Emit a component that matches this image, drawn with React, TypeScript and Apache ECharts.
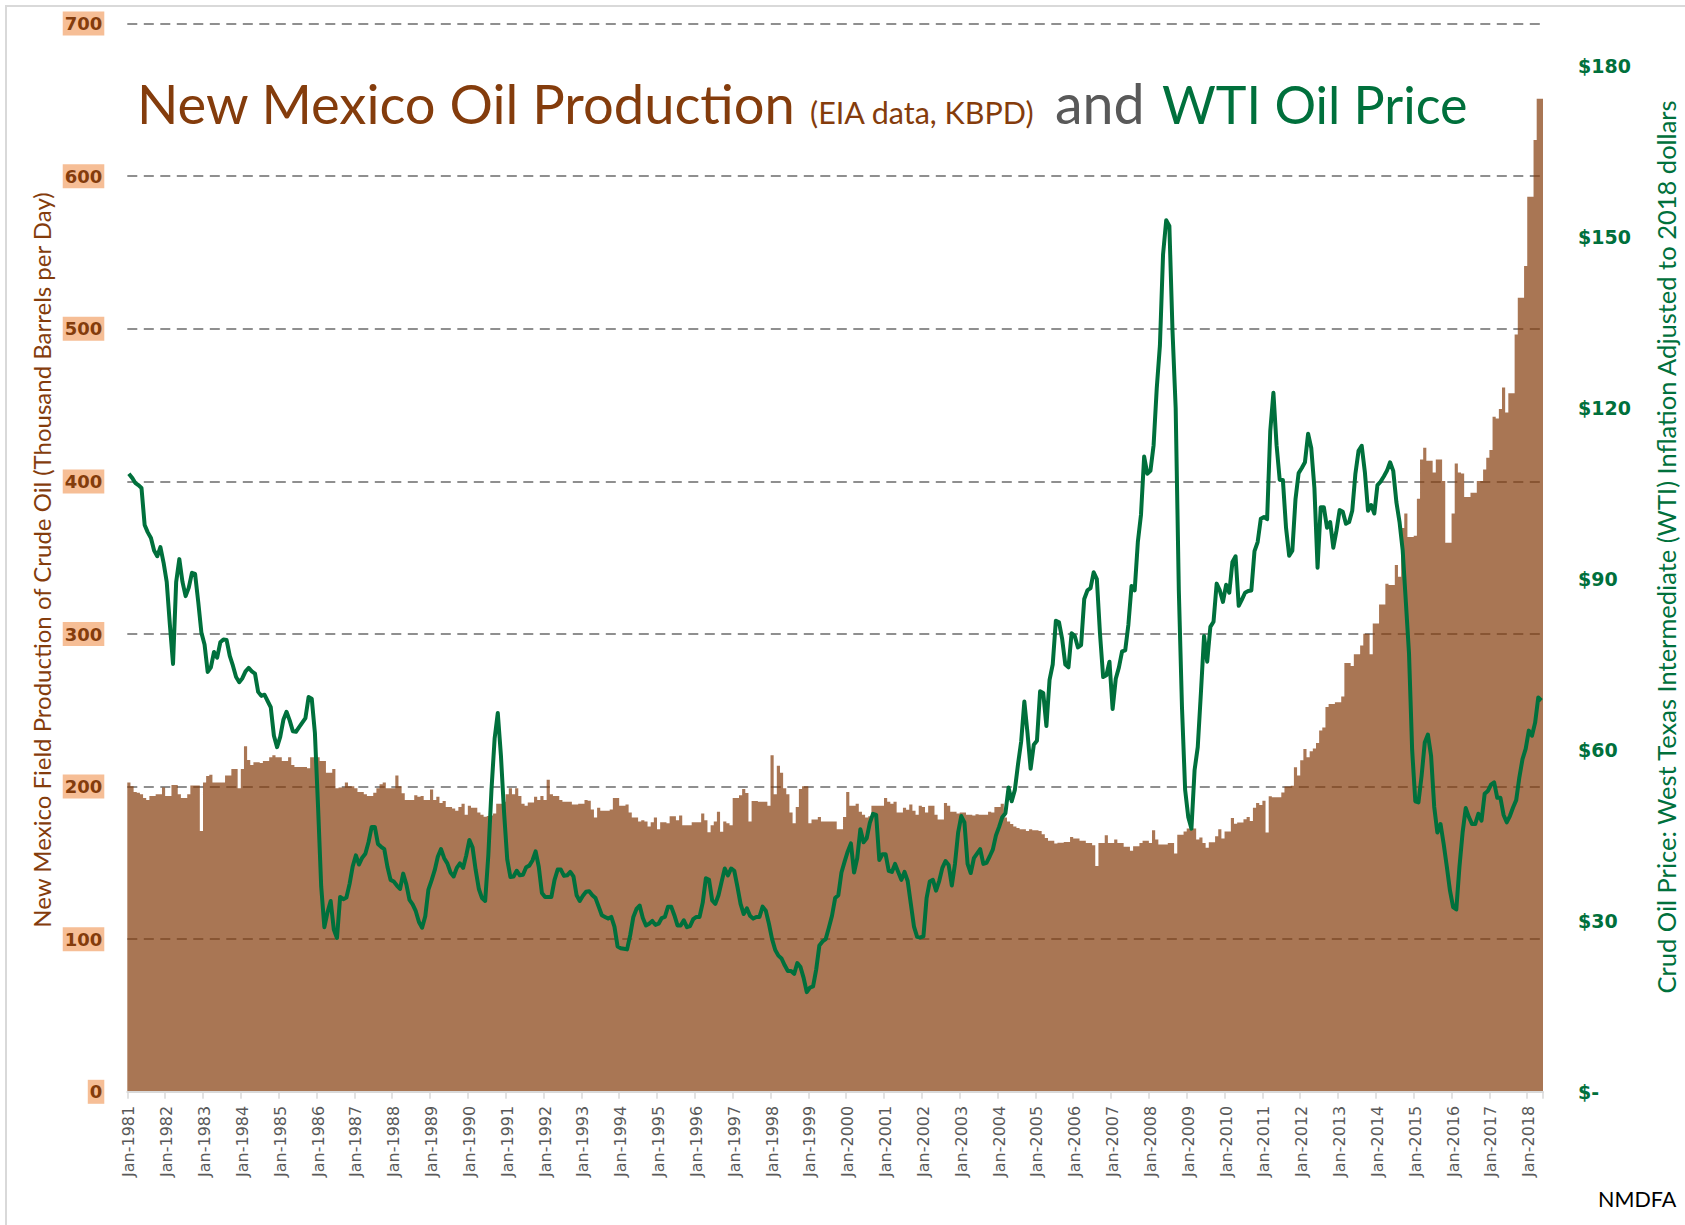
import React, { useEffect, useRef } from 'react';
import * as echarts from 'echarts';

// ---------- DATA ----------
const FIRST_YEAR = 1981;
const MONTHS = ['Jan', 'Feb', 'Mar', 'Apr', 'May', 'Jun', 'Jul', 'Aug', 'Sep', 'Oct', 'Nov', 'Dec'];

// New Mexico field production of crude oil, thousand barrels per day (monthly, Jan-1981 .. May-2018)
const productionKbpd: number[] = [
  /*1981*/ 202.7, 200.2, 196.4, 196, 195, 192.5, 191.3, 193.8, 193.8, 195, 195, 199.4,
  /*1982*/ 193.8, 193.8, 201, 201, 195, 192.5, 192.5, 195, 200.7, 200.7, 200.7, 170.9,
  /*1983*/ 202.7, 207, 207.8, 202.7, 202.7, 202.7, 202.7, 207.3, 207.3, 211.6, 211.6, 199,
  /*1984*/ 211.6, 226.4, 217.5, 214.2, 216, 216, 215.5, 216.7, 216.7, 219.3, 220.6, 219.3,
  /*1985*/ 219.3, 216.7, 216.7, 219.3, 214.2, 212.9, 212.9, 212.9, 212.9, 212, 219.3, 219.3,
  /*1986*/ 219.3, 216.7, 216.7, 209, 209, 211.6, 199, 199.4, 199.4, 202.7, 200.2, 200.2,
  /*1987*/ 199, 196.4, 196.4, 195, 193.8, 193.8, 196, 199, 201.5, 202.7, 199, 199,
  /*1988*/ 199, 207.3, 200.2, 195.6, 191.3, 191.3, 191.3, 194.3, 193.3, 193.8, 191.3, 191.3,
  /*1989*/ 198.1, 191.3, 193.3, 189.2, 190.5, 186.7, 186.7, 185.6, 184.1, 186.7, 188.7, 181.6,
  /*1990*/ 187.4, 186.2, 186.2, 183.1, 181.6, 180.3, 180.7, 181.1, 182.3, 188.7, 188.7, 190,
  /*1991*/ 195, 199, 195, 199, 193.8, 188.7, 187.4, 189.5, 189.5, 193.3, 191.3, 193.8,
  /*1992*/ 191.3, 204.5, 195, 193.8, 193.8, 191.3, 190, 190, 190, 188.2, 188.2, 188.7,
  /*1993*/ 188.7, 191.3, 190.7, 185, 179.8, 186.2, 184.1, 184.1, 184.1, 185, 192.5, 192.5,
  /*1994*/ 187.4, 187.4, 188.2, 183.1, 179.8, 179.8, 177.2, 178, 177.2, 173.9, 176.7, 179.8,
  /*1995*/ 172.1, 176.7, 176.7, 176, 180.6, 180.6, 178, 181.1, 174.7, 174.7, 174.7, 176.7,
  /*1996*/ 176.7, 176.7, 182.3, 178, 170.1, 174.7, 177.2, 183.6, 170.4, 177.2, 176, 174.7,
  /*1997*/ 192.5, 192.5, 194.3, 198.4, 195.8, 177.2, 190.5, 190.5, 190, 190, 190, 187.4,
  /*1998*/ 220.6, 195, 213.7, 209.1, 199, 195, 183.1, 176, 186.7, 198.4, 200.2, 200.2,
  /*1999*/ 176, 178.5, 178.5, 180, 177.2, 177.2, 177.2, 177.2, 177.2, 172.1, 172.1, 180,
  /*2000*/ 196.4, 187.4, 187.4, 188.7, 183.6, 181.6, 179.8, 180.6, 187.4, 187.4, 187.4, 187.4,
  /*2001*/ 192.5, 190, 188.7, 190, 183.1, 183.1, 186.2, 184.9, 188.2, 184.1, 181.6, 187.4,
  /*2002*/ 186.7, 183.1, 187.4, 187.4, 181.6, 178.5, 178.5, 189.2, 187.4, 183.6, 183.6, 182.3,
  /*2003*/ 183.1, 183.1, 181.6, 181.6, 181.1, 181.8, 181.6, 181.6, 181.6, 183.6, 183.1, 186.7,
  /*2004*/ 186.7, 188.7, 179.8, 177.2, 175.5, 173.9, 172.9, 172.1, 172.1, 170.9, 172.1, 171.4,
  /*2005*/ 171.4, 170.9, 168.8, 166.3, 164.5, 164.5, 162.7, 163.2, 163.2, 163.7, 163.7, 167,
  /*2006*/ 166, 166, 164.5, 164.5, 163, 163, 161.5, 147.9, 163, 163, 168.1, 163,
  /*2007*/ 163, 165.4, 163, 163, 160.6, 160.6, 157.9, 160.9, 160.9, 163, 164.5, 164.5,
  /*2008*/ 163, 171.4, 165.4, 162.1, 162.1, 162.1, 163, 163, 156.1, 168.4, 168.4, 170.5,
  /*2009*/ 172.6, 172.6, 172.6, 165.4, 166.6, 163, 160, 163.6, 163.6, 167.5, 172, 166,
  /*2010*/ 170.5, 170.5, 179.5, 175.6, 176.5, 176.5, 178.6, 180.1, 177.4, 186.2, 189.2, 188,
  /*2011*/ 190.7, 170, 193.7, 193.1, 193.1, 193.1, 196.1, 200, 200, 200.6, 212.6, 207.2,
  /*2012*/ 217.2, 224.7, 219.3, 223.2, 225, 228.5, 236.8, 238.7, 252.2, 254.1, 254.1, 255.3,
  /*2013*/ 255.3, 259.1, 281, 281, 279.1, 286.8, 286.8, 292.5, 300.2, 300.2, 286.8, 306.8,
  /*2014*/ 306.8, 319.4, 319.4, 332.9, 332.1, 332.1, 345.2, 337.5, 369.4, 379, 363.6, 363.6,
  /*2015*/ 364.4, 388.6, 414.4, 422, 413.6, 413.6, 405.9, 414.4, 414.4, 400.2, 359.8, 359.8,
  /*2016*/ 379, 411.7, 405.9, 405.1, 389.8, 389.8, 392.5, 392.5, 400.2, 400.2, 407.8, 415.5,
  /*2017*/ 420.5, 442.4, 441.3, 447.4, 461.6, 445.1, 457.8, 457.8, 496.2, 520.4, 520.4, 541.2,
  /*2018*/ 586.5, 586.5, 623.8, 650.7, 650.7,
];

// WTI crude price, inflation adjusted to 2018 dollars (monthly, Jan-1981 .. May-2018)
const wtiPrice2018: number[] = [
  /*1981*/ 108.5, 107.8, 106.9, 106.5, 106, 99.5, 98.2, 97.2, 95, 94, 95.6, 92.9,
  /*1982*/ 89.5, 82, 75.1, 89.5, 93.5, 89.5, 87, 88.5, 91.1, 90.9, 86, 80.6,
  /*1983*/ 78.5, 73.7, 74.5, 77.2, 76.2, 78.9, 79.4, 79.3, 76.5, 74.8, 72.8, 71.9,
  /*1984*/ 72.6, 73.8, 74.4, 73.8, 73.4, 70.2, 69.5, 69.7, 68.6, 67.5, 62.5, 60.5,
  /*1985*/ 62.3, 65.3, 66.7, 65.2, 63.3, 63.2, 64, 64.8, 65.6, 69.3, 69, 63,
  /*1986*/ 50, 36, 28.9, 31.5, 33.5, 28.5, 27, 34.2, 33.8, 34.1, 36.5, 39.6,
  /*1987*/ 41.5, 39.9, 41.1, 41.8, 43.8, 46.5, 46.5, 43.5, 43, 42.6, 39.5, 37.2,
  /*1988*/ 36.9, 36.2, 35.6, 38.3, 36.4, 33.7, 32.9, 31.7, 29.8, 28.8, 30.8, 35.5,
  /*1989*/ 37.1, 38.9, 41.3, 42.6, 41, 40.1, 38.5, 37.8, 39.3, 40.1, 39.3, 41.5,
  /*1990*/ 44.2, 42.9, 38.9, 35.6, 34, 33.5, 41.5, 53, 62, 66.5, 59, 49,
  /*1991*/ 40.8, 37.7, 37.8, 38.8, 38, 38.1, 39.4, 39.7, 40.6, 42.2, 39.5, 34.9,
  /*1992*/ 34.2, 34.2, 34.2, 37.2, 39, 39, 37.9, 38, 38.6, 37.8, 34.5, 33.5,
  /*1993*/ 34.4, 35.1, 35.2, 34.5, 34, 32.5, 31, 30.7, 30.4, 30.7, 29, 25.5,
  /*1994*/ 25.2, 25.1, 25, 27.5, 30.7, 32.1, 32.7, 30.5, 29.2, 29.5, 30, 29.3,
  /*1995*/ 29.5, 30.5, 30.7, 32.5, 32.5, 31, 29.2, 29.2, 30.1, 28.9, 29.1, 30.3,
  /*1996*/ 30.7, 30.7, 33.2, 37.5, 37.2, 33.6, 33, 34.5, 36.9, 39.2, 38, 39.2,
  /*1997*/ 38.8, 36, 33, 31.2, 32.2, 30.9, 30.4, 30.7, 30.7, 32.5, 31.8, 29.5,
  /*1998*/ 26.8, 24.9, 23.9, 23.4, 22.2, 21.2, 21.2, 20.7, 22.6, 21.9, 20, 17.5,
  /*1999*/ 18.3, 18.5, 21.5, 25.7, 26.4, 26.8, 28.8, 30.9, 34, 34.5, 38.5, 40.4,
  /*2000*/ 42.2, 43.6, 38.5, 41, 46.1, 43.8, 44.5, 47.2, 48.8, 48.6, 40.7, 41.7,
  /*2001*/ 41.7, 38.8, 38.6, 40, 38.6, 37.2, 38.6, 37, 33, 29, 27.2, 27.1,
  /*2002*/ 27.3, 34, 36.9, 37.2, 35.3, 37, 39.3, 40.5, 39.8, 36.2, 40, 45.5,
  /*2003*/ 48.4, 47.3, 40, 38.4, 41, 41.8, 42.6, 40, 40.2, 41.3, 42.5, 45,
  /*2004*/ 46.5, 48.2, 48.9, 53.4, 51, 53, 57.5, 61.5, 68.5, 63, 56.7, 60.9,
  /*2005*/ 61.6, 70.3, 70, 64.2, 72.3, 75, 82.7, 82.4, 79.5, 75, 74.5, 80.5,
  /*2006*/ 80, 78, 78.4, 86.5, 88, 88.4, 91.2, 90, 80.4, 72.8, 73.1, 75.5,
  /*2007*/ 67.2, 72.5, 74.5, 77.3, 77.5, 82, 88.8, 88, 96.5, 101.3, 111.5, 108.5,
  /*2008*/ 109, 113.5, 123.5, 131, 147, 153, 152, 133.5, 120, 88, 67.5, 53,
  /*2009*/ 48.2, 46.2, 56.5, 60.5, 70, 80, 75.5, 81.6, 82.5, 89.2, 88, 86,
  /*2010*/ 89, 87.6, 93, 94, 85.3, 86.4, 87.6, 87.9, 88, 94.9, 96.5, 100.6,
  /*2011*/ 100.9, 100.5, 116, 122.7, 113.5, 107.4, 107.4, 99, 94.1, 95, 104, 108.6,
  /*2012*/ 109.5, 110.5, 115.5, 113, 106, 92, 102.6, 102.6, 99, 100, 95.5, 98.5,
  /*2013*/ 102.1, 101.8, 99.7, 100, 102, 108.5, 112.5, 113.4, 108.8, 102, 103, 101.5,
  /*2014*/ 106.5, 107.1, 108, 109, 110.5, 109, 103.5, 100, 95, 86, 77, 60,
  /*2015*/ 51, 50.8, 55.5, 61.3, 62.7, 59, 50, 45.5, 47, 43.5, 39.5, 35.3,
  /*2016*/ 32.4, 32, 39.5, 45.5, 49.8, 48.2, 47, 47, 48.8, 47.6, 52.3, 52.8,
  /*2017*/ 53.9, 54.3, 51.6, 51.6, 48.6, 47.3, 48.4, 49.9, 51.2, 55.2, 58.4, 60.2,
  /*2018*/ 63.4, 62.5, 64.8, 69.2, 68.7,
];

const categories: string[] = productionKbpd.map(
  (_, i) => `${MONTHS[i % 12]}-${FIRST_YEAR + Math.floor(i / 12)}`
);

const productionAxis = { min: 0, max: 700, interval: 100 };
const priceAxis = { min: 0, max: 187.5, interval: 30 };

const BROWN = '#843C0C';
const GREEN = '#00703C';
const GRAY = '#595959';

export default function App() {
  const ref = useRef<HTMLDivElement>(null);

  useEffect(() => {
    if (!ref.current) return;
    const chart = echarts.init(ref.current, null, { renderer: 'svg' });
    chart.setOption({
      animation: false,
      backgroundColor: '#ffffff',
      grid: {
        left: 127.3,
        right: 142,
        top: 23.6,
        bottom: 133.2,
        containLabel: false,
        outerBoundsMode: 'none',
      },
      xAxis: {
        type: 'category',
        data: categories,
        boundaryGap: true,
        z: 5,
        axisLine: { show: true, lineStyle: { color: '#D9D9D9', width: 2 } },
        axisTick: { show: true, interval: 11, length: 7, lineStyle: { color: '#D9D9D9', width: 1.5 } },
        axisLabel: {
          interval: 11,
          rotate: 90,
          margin: 14,
          color: GRAY,
          fontFamily: 'DejaVu Sans',
          fontSize: 16,
        },
        splitLine: { show: false },
      },
      yAxis: [
        {
          type: 'value',
          position: 'left',
          ...productionAxis,
          axisLine: { show: false },
          axisTick: { show: false },
          splitLine: {
            show: true,
            showMinLine: false,
            lineStyle: { color: '#8F8F8F', width: 2, type: [10, 6.5] },
          },
          axisLabel: {
            margin: 23,
            color: BROWN,
            fontWeight: 'bold',
            fontFamily: 'DejaVu Sans',
            fontSize: 18,
            backgroundColor: '#F6BE96',
            padding: [3, 2, 3, 2],
          },
        },
        {
          type: 'value',
          position: 'right',
          ...priceAxis,
          axisLine: { show: false },
          axisTick: { show: false },
          splitLine: { show: false },
          axisLabel: {
            margin: 35,
            showMaxLabel: false,
            color: GREEN,
            fontWeight: 'bold',
            fontFamily: 'DejaVu Sans',
            fontSize: 19,
            formatter: (v: number) => (v === 0 ? '$-' : '$' + v),
          },
        },
      ],
      series: [
        {
          name: 'New Mexico Oil Production (KBPD)',
          type: 'bar',
          data: productionKbpd,
          yAxisIndex: 0,
          barCategoryGap: '0%',
          barGap: '0%',
          large: true,
          largeThreshold: 100,
          itemStyle: { color: BROWN, opacity: 0.7 },
          z: 2,
        },
        {
          name: 'WTI Oil Price (2018 $)',
          type: 'line',
          data: wtiPrice2018,
          yAxisIndex: 1,
          symbol: 'none',
          smooth: false,
          lineStyle: { color: GREEN, width: 4, join: 'round' },
          z: 4,
        },
      ],
      graphic: [
        {
          type: 'rect',
          silent: true,
          z: -10,
          shape: { x: 6, y: 6, width: 1720, height: 1260 },
          style: { fill: 'none', stroke: '#D9D9D9', lineWidth: 2 },
        },
        {
          type: 'text', x: 137, y: 103, z: 10,
          style: { text: 'New Mexico Oil Production', fill: BROWN, fontSize: 54.3, fontFamily: 'Lato', verticalAlign: 'middle', align: 'left' },
        },
        {
          type: 'text', x: 810, y: 112.4, z: 10,
          style: { text: '(EIA data, KBPD)', fill: BROWN, fontSize: 30.5, fontFamily: 'Lato', verticalAlign: 'middle', align: 'left' },
        },
        {
          type: 'text', x: 1055, y: 102.7, z: 10,
          style: { text: 'and', fill: GRAY, fontSize: 55.5, fontFamily: 'Lato', verticalAlign: 'middle', align: 'left' },
        },
        {
          type: 'text', x: 1162, y: 104, z: 10,
          style: { text: 'WTI Oil Price', fill: GREEN, fontSize: 52, fontFamily: 'Lato', verticalAlign: 'middle', align: 'left' },
        },
        {
          type: 'text', x: 41, y: 560, rotation: Math.PI / 2, z: 10,
          style: {
            text: 'New Mexico Field Production of Crude Oil (Thousand Barrels per Day)',
            fill: BROWN, fontSize: 24, fontFamily: 'Lato', align: 'center', verticalAlign: 'middle',
          },
        },
        {
          type: 'text', x: 1666, y: 547, rotation: Math.PI / 2, z: 10,
          style: {
            text: 'Crud Oil Price: West Texas Intermediate (WTI) Inflation Adjusted to 2018 dollars',
            fill: GREEN, fontSize: 25.5, fontFamily: 'Lato', align: 'center', verticalAlign: 'middle',
          },
        },
        {
          type: 'text', x: 1598, y: 1199, z: 10,
          style: { text: 'NMDFA', fill: '#000000', fontSize: 21.5, fontFamily: 'Lato', align: 'left', verticalAlign: 'middle' },
        },
      ],
    });
    return () => chart.dispose();
  }, []);

  return (
    <div
      ref={ref}
      style={{ position: 'absolute', left: 0, top: 0, width: 1685, height: 1225, background: '#ffffff' }}
    />
  );
}
